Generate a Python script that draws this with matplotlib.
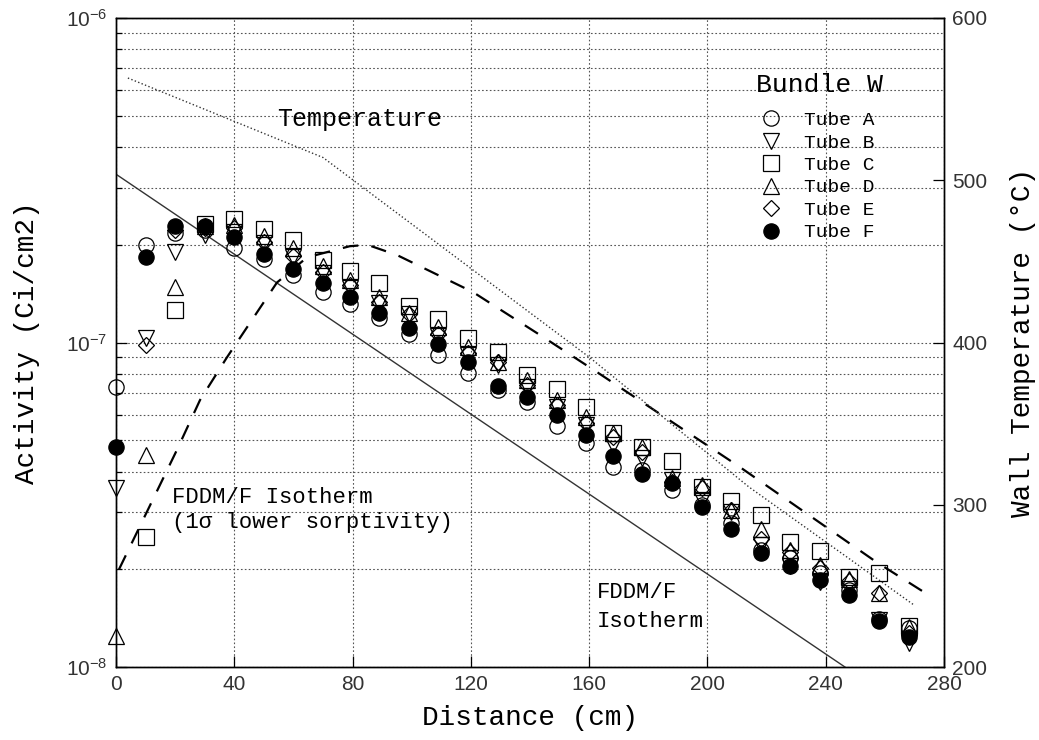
import numpy as np
import matplotlib.pyplot as plt
from matplotlib.ticker import FixedLocator, LogLocator, NullFormatter

MONO = ['Liberation Mono', 'DejaVu Sans Mono']
SANS = ['Liberation Sans', 'DejaVu Sans']
nan = np.nan

# Measured activity along the tube (cm -> Ci/cm2)
distance = [0, 10, 20, 30, 40, 50, 60, 70, 79, 89, 99, 109, 119, 129, 139,
            149, 159, 168, 178, 188, 198, 208, 218, 228, 238, 248, 258, 268]
tube_a = [7.3e-8, 2.0e-7, 2.18e-7, 2.22e-7, 1.96e-7, 1.81e-7, 1.62e-7, 1.43e-7, 1.31e-7, 1.19e-7,
          1.06e-7, 9.15e-8, 8.06e-8, 7.14e-8, 6.56e-8, 5.53e-8, 4.9e-8, 4.13e-8, 4.05e-8, 3.51e-8,
          3.16e-8, 2.78e-8, 2.29e-8, 2.17e-8, 1.95e-8, 1.73e-8, 1.41e-8, 1.32e-8]
tube_b = [3.56e-8, 1.03e-7, 1.90e-7, 2.14e-7, 2.19e-7, 2.03e-7, 1.83e-7, 1.64e-7, 1.47e-7, 1.32e-7,
          1.22e-7, 1.05e-7, 9.15e-8, 8.52e-8, 7.29e-8, 6.33e-8, 5.57e-8, 4.83e-8, 4.41e-8, 3.77e-8,
          3.27e-8, 3.0e-8, 2.38e-8, 2.05e-8, 1.83e-8, 1.74e-8, 1.40e-8, 1.19e-8]
tube_c = [nan, 2.52e-8, 1.26e-7, 2.32e-7, 2.40e-7, 2.24e-7, 2.07e-7, 1.79e-7, 1.66e-7, 1.52e-7,
          1.30e-7, 1.18e-7, 1.03e-7, 9.35e-8, 7.95e-8, 7.19e-8, 6.33e-8, 5.26e-8, 4.76e-8, 4.31e-8,
          3.59e-8, 3.25e-8, 2.94e-8, 2.43e-8, 2.27e-8, 1.89e-8, 1.95e-8, 1.34e-8]
tube_d = [1.25e-8, 4.50e-8, 1.48e-7, 2.28e-7, 2.30e-7, 2.13e-7, 1.95e-7, 1.72e-7, 1.56e-7, 1.38e-7,
          1.23e-7, 1.12e-7, 9.69e-8, 8.7e-8, 7.66e-8, 6.65e-8, 5.89e-8, 5.26e-8, 4.76e-8, 3.82e-8,
          3.64e-8, 3.05e-8, 2.66e-8, 2.29e-8, 2.06e-8, 1.87e-8, 1.69e-8, 1.33e-8]
tube_e = [nan, 9.8e-8, 2.22e-7, 2.25e-7, 2.25e-7, 2.04e-7, 1.85e-7, 1.65e-7, 1.50e-7, 1.33e-7,
          1.22e-7, 1.06e-7, 9.28e-8, 8.7e-8, 7.4e-8, 6.4e-8, 5.65e-8, 5.12e-8, 4.6e-8, 3.72e-8,
          3.56e-8, 3.05e-8, 2.48e-8, 2.26e-8, 2.02e-8, 1.84e-8, 1.69e-8, 1.27e-8]
tube_f = [4.76e-8, 1.84e-7, 2.28e-7, 2.28e-7, 2.11e-7, 1.87e-7, 1.69e-7, 1.53e-7, 1.38e-7, 1.23e-7,
          1.11e-7, 9.9e-8, 8.7e-8, 7.35e-8, 6.79e-8, 5.98e-8, 5.18e-8, 4.47e-8, 3.93e-8, 3.70e-8,
          3.11e-8, 2.66e-8, 2.25e-8, 2.05e-8, 1.85e-8, 1.67e-8, 1.39e-8, 1.24e-8]
tube_names = ['Tube A', 'Tube B', 'Tube C', 'Tube D', 'Tube E', 'Tube F']

# Model curves
iso_x = [0, 246.5]
iso_y = [3.3e-7, 1.0e-8]
low_x = [1, 20.6, 28.4, 37.5, 54.4, 64.6, 79, 85, 95, 120.7, 144.4, 162.7, 211, 257, 276]
low_y = [2.0e-8, 4.67e-8, 6.65e-8, 9.0e-8, 1.53e-7, 1.83e-7, 1.98e-7, 2.0e-7, 1.86e-7,
         1.43e-7, 1.04e-7, 8.1e-8, 4.13e-8, 2.11e-8, 1.64e-8]

# Wall temperature (deg C)
temp_x = [4, 70, 89, 160, 214, 270]
temp_y = [563, 514, 488, 391, 311, 238]

fig = plt.figure(figsize=(10.39, 7.40), dpi=100)
ax = fig.add_axes([0.1117, 0.0986, 0.7969, 0.8771])
ax2 = ax.twinx()

# Markers.
styles = [dict(marker='o', mfc='none'), dict(marker='v', mfc='none'),
          dict(marker='s', mfc='none'), dict(marker='^', mfc='none'),
          dict(marker='D', mfc='none', ms=8), dict(marker='o', mfc='black')]
handles = []
for vals, name, st in zip([tube_a, tube_b, tube_c, tube_d, tube_e, tube_f], tube_names, styles):
    kw = dict(ms=11, mec='black', mew=0.9, ls='none', clip_on=False)
    kw.update(st)
    h, = ax.plot(distance, vals, label=name, zorder=4, **kw)
    handles.append(h)

ax.plot(iso_x, iso_y, '-', color='#333333', lw=1.0, zorder=3)
ax.plot(low_x, low_y, '--', color='black', lw=1.6, dashes=(7, 6), zorder=3)
ax2.plot(temp_x, temp_y, ':', color='#333333', lw=1.0)

ax.set_yscale('log')
ax.set_xlim(0, 280)
ax.set_ylim(1e-8, 1e-6)
ax.xaxis.set_major_locator(FixedLocator(np.arange(0, 281, 40)))
ax.yaxis.set_major_locator(LogLocator(base=10, numticks=10))
ax.yaxis.set_minor_locator(LogLocator(base=10, subs=np.arange(2, 10), numticks=20))
ax.yaxis.set_minor_formatter(NullFormatter())
ax.grid(True, which='both', axis='y', ls=(0, (1.5, 2)), color='#555555', lw=0.8)
ax.grid(True, which='major', axis='x', ls=(0, (1.5, 2)), color='#555555', lw=0.8)
ax.tick_params(which='both', direction='in', labelsize=15, width=0.9)
ax.tick_params(which='major', length=8, pad=6)
ax.tick_params(which='minor', length=4)
for lab in ax.get_xticklabels() + ax.get_yticklabels():
    lab.set_family(SANS)
    lab.set_color('#333333')

ax2.set_ylim(200, 600)
ax2.yaxis.set_major_locator(FixedLocator([200, 300, 400, 500, 600]))
ax2.tick_params(direction='in', labelsize=15, length=8, width=0.9, pad=6)
for lab in ax2.get_yticklabels():
    lab.set_family(SANS)
    lab.set_color('#333333')

for a in (ax, ax2):
    for s in a.spines.values():
        s.set_linewidth(1.0)

ax.set_xlabel('Distance (cm)', family=MONO, fontsize=20, labelpad=8)
ax.set_ylabel('Activity (Ci/cm2)', family=MONO, fontsize=20, labelpad=19)
ax2.set_ylabel('Wall Temperature (°C)', family=MONO, fontsize=20, labelpad=16)

ax.text(54.5, 4.65e-7, 'Temperature', family=MONO, fontsize=18)
ax.text(19, 3.2e-8, 'FDDM/F Isotherm', family=MONO, fontsize=16)
ax.text(19, 2.68e-8, '(1\u03c3 lower sorptivity)', family=MONO, fontsize=16)
ax.text(162.7, 1.63e-8, 'FDDM/F', family=MONO, fontsize=16)
ax.text(162.7, 1.33e-8, 'Isotherm', family=MONO, fontsize=16)

ax.text(216.5, 5.9e-7, 'Bundle W', family=MONO, fontsize=19)
ax.legend(handles=handles, loc='upper left', bbox_to_anchor=(0.77, 0.868), frameon=False,
          prop={'family': MONO, 'size': 14}, handlelength=1.0, handletextpad=1.2,
          labelspacing=0.25, borderaxespad=0)

fig.savefig('out.png', dpi=100)
